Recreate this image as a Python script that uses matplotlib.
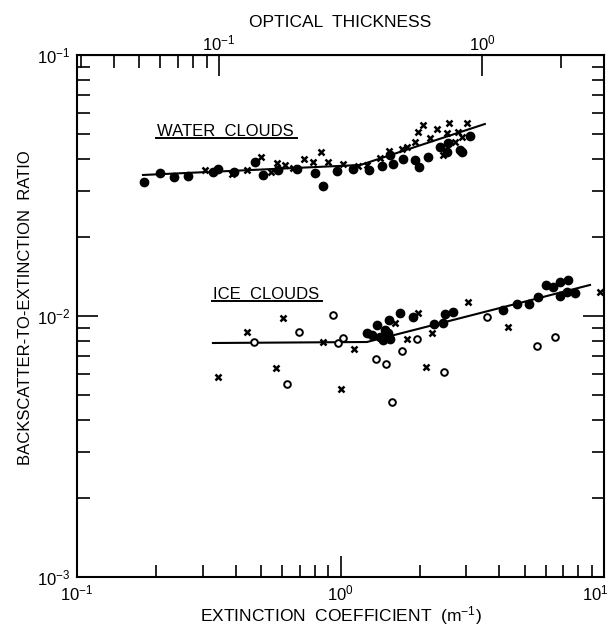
import matplotlib
matplotlib.use('Agg')
import matplotlib.pyplot as plt
from matplotlib.lines import Line2D
from matplotlib.ticker import NullFormatter, FixedLocator
from matplotlib.transforms import ScaledTranslation

plt.rcParams['font.family'] = ['Liberation Sans', 'DejaVu Sans']
plt.rcParams['mathtext.fontset'] = 'custom'
plt.rcParams['mathtext.rm'] = 'Liberation Sans'
plt.rcParams['mathtext.default'] = 'regular'

# water clouds
water_dot_x = [0.179, 0.207, 0.234, 0.264, 0.329, 0.344, 0.395, 0.474, 0.507, 0.581,
               0.683, 0.80, 0.861, 0.967, 1.118, 1.282, 1.433, 1.541, 1.587, 1.731,
               1.918, 1.986, 2.153, 2.386, 2.529, 2.558, 2.84, 2.884, 3.10]
water_dot_y = [0.0325, 0.0352, 0.0340, 0.0345, 0.0357, 0.0366, 0.0355, 0.0388, 0.0346, 0.0363,
               0.0366, 0.0352, 0.0316, 0.0360, 0.0366, 0.0363, 0.0375, 0.0414, 0.0382, 0.0401,
               0.0396, 0.0371, 0.0408, 0.0445, 0.0426, 0.0460, 0.0432, 0.0424, 0.0491]
water_x_x = [0.306, 0.386, 0.443, 0.498, 0.543, 0.573, 0.615, 0.659, 0.730, 0.789,
             0.843, 0.90, 1.025, 1.168, 1.257, 1.413, 1.532, 1.707, 1.783, 1.918,
             1.974, 2.05, 2.186, 2.317, 2.455, 2.529, 2.588, 2.72, 2.80, 2.90, 3.013]
water_x_y = [0.0363, 0.0350, 0.0363, 0.0408, 0.0357, 0.0387, 0.0379, 0.0368, 0.0398, 0.0388,
             0.0424, 0.0390, 0.0382, 0.0375, 0.0379, 0.0402, 0.0430, 0.0435, 0.0445, 0.0466,
             0.0506, 0.0539, 0.0480, 0.0519, 0.0414, 0.0501, 0.0550, 0.0466, 0.0508, 0.0484, 0.0547]
water_fit_x = [0.178, 1.19, 3.53]
water_fit_y = [0.0347, 0.0379, 0.0544]

# ice clouds
ice_dot_x = [1.257, 1.372, 1.454, 1.532, 1.518, 1.475, 1.682, 1.889, 2.264, 2.455,
             2.493, 2.666, 4.147, 4.688, 5.206, 5.633, 6.026, 6.422, 6.808, 7.28,
             6.808, 7.22, 7.762, 1.313, 1.413, 1.541]
ice_dot_y = [0.00863, 0.00924, 0.00809, 0.00965, 0.00859, 0.00884, 0.01024, 0.00994, 0.00929, 0.00943,
             0.01018, 0.01039, 0.01054, 0.01109, 0.01109, 0.01186, 0.01315, 0.01295, 0.01346, 0.01374,
             0.01193, 0.01239, 0.01228, 0.00846, 0.00833, 0.00816]
ice_x_x = [0.344, 0.441, 0.604, 0.568, 0.861, 1.002, 1.125, 1.61, 1.974, 1.783,
           2.219, 2.111, 3.055, 4.333, 9.66]
ice_x_y = [0.00585, 0.00866, 0.0098, 0.0063, 0.00793, 0.00525, 0.00745, 0.00938, 0.0103, 0.00814,
           0.00859, 0.00636, 0.01128, 0.00905, 0.0124]
ice_open_x = [0.469, 0.625, 0.698, 0.934, 0.981, 1.019, 1.36, 1.488, 1.716, 1.946,
              1.564, 2.471, 3.588, 5.555, 6.516]
ice_open_y = [0.00795, 0.00547, 0.00866, 0.01009, 0.00786, 0.00821, 0.00683, 0.00655, 0.00736, 0.00816,
              0.00469, 0.00612, 0.00989, 0.00767, 0.00833]
ice_fit_x = [0.328, 1.26, 8.85]
ice_fit_y = [0.00788, 0.00795, 0.01315]

tau_per_ext = 0.29  # optical thickness / extinction coefficient
tau_major = [0.1, 1.0]
tau_minor = [0.03, 0.04, 0.05, 0.06, 0.07, 0.08, 0.09, 2.0]

fig = plt.figure(figsize=(6.11, 6.29), dpi=100)
ax = fig.add_axes([77 / 611, 1 - 577 / 629, 527 / 611, 522 / 629])
ax.set_xscale('log')
ax.set_yscale('log')
ax.set_xlim(0.1, 10)
ax.set_ylim(1e-3, 1e-1)

ax.plot(water_fit_x, water_fit_y, color='k', lw=1.5)
ax.plot(ice_fit_x, ice_fit_y, color='k', lw=1.5)

ax.plot(water_dot_x, water_dot_y, 'o', color='k', ms=6, ls='none')
ax.plot(water_x_x, water_x_y, 'x', color='k', ms=4.2, mew=1.8, ls='none')
ax.plot(ice_dot_x, ice_dot_y, 'o', color='k', ms=6, ls='none')
ax.plot(ice_x_x, ice_x_y, 'x', color='k', ms=4.2, mew=1.8, ls='none')
ax.plot(ice_open_x, ice_open_y, 'o', mfc='white', mec='k', ms=4.8, mew=1.4, ls='none')

for s in ax.spines.values():
    s.set_linewidth(1.5)

ax.tick_params(which='both', direction='in', top=False, right=True,
               labelsize=12, width=1.2, pad=5)
ax.tick_params(which='major', length=15)
ax.tick_params(which='minor', length=9)
ax.xaxis.set_minor_formatter(NullFormatter())
ax.yaxis.set_minor_formatter(NullFormatter())

ax.set_xlabel('EXTINCTION  COEFFICIENT  (m$^{-1}$)', fontsize=12.5)
ax.xaxis.set_label_coords(0.5, -0.052)
ax.set_ylabel('BACKSCATTER-TO-EXTINCTION  RATIO', fontsize=12)
ax.yaxis.set_label_coords(-0.083, 0.517)

secax = ax.secondary_xaxis('top', functions=(lambda x: x * tau_per_ext,
                                             lambda t: t / tau_per_ext))
secax.xaxis.set_major_locator(FixedLocator(tau_major))
secax.xaxis.set_minor_locator(FixedLocator(tau_minor))
secax.xaxis.set_minor_formatter(NullFormatter())
secax.tick_params(which='both', direction='in', labelsize=12, width=1.2, pad=1)
secax.tick_params(which='major', length=15)
secax.tick_params(which='minor', length=9)
secax.set_xlabel('OPTICAL  THICKNESS', fontsize=12.5, labelpad=5)

t1 = ax.text(0.152, 0.845, 'WATER  CLOUDS', transform=ax.transAxes,
             fontsize=12, va='baseline', ha='left')
t2 = ax.text(0.258, 0.533, 'ICE  CLOUDS', transform=ax.transAxes,
             fontsize=12, va='baseline', ha='left')

fig.canvas.draw()

# keep the last bottom tick label inside the figure
for tick in ax.xaxis.get_major_ticks():
    if abs(tick.get_loc() - 10) < 1e-6:
        lab = tick.label1
        lab.set_transform(lab.get_transform() +
                          ScaledTranslation(-6 / 72, 0, fig.dpi_scale_trans))

# underline the labels
inv = fig.transFigure.inverted()
for t in (t1, t2):
    bb = t.get_window_extent()
    (x0, y0), (x1, _) = inv.transform([(bb.x0 - 1, bb.y0 + 0.5), (bb.x1 + 3, bb.y0)])
    fig.add_artist(Line2D([x0, x1], [y0, y0], transform=fig.transFigure,
                          color='k', lw=1.4))

fig.savefig('out.png', dpi=100)
